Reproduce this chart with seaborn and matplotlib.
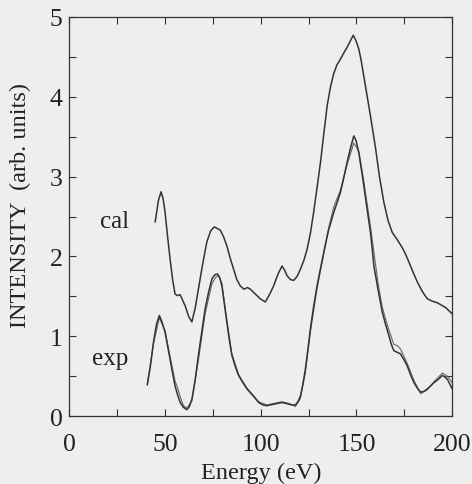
import numpy as np
import pandas as pd
import matplotlib
matplotlib.use("Agg")
import matplotlib.pyplot as plt
from matplotlib.ticker import MultipleLocator
import seaborn as sns

# ---- data ----
cal_x = [44.8, 46.5, 47.9, 49.0, 50.0, 51.3, 52.6, 54.0, 55.2, 56.5, 57.9, 59.2, 60.5, 62.3, 64.0, 65.7,
         67.4, 69.6, 71.8, 73.8, 75.7, 77.3, 78.8, 80.5, 82.3, 84.0, 85.8, 87.5, 89.3, 91.2, 93.1, 94.5,
         97.1, 99.7, 102.4, 104.5, 106.7, 109.0, 111.1, 112.4, 113.7, 115.5, 117.2, 119.0, 120.7, 122.5,
         124.2, 126.0, 127.6, 129.4, 131.2, 133.0, 134.7, 136.4, 138.1, 139.8, 141.6, 143.4, 145.1, 146.8,
         148.3, 149.8, 151.2, 152.5, 153.8, 155.5, 157.3, 158.7, 160.0, 162.0, 164.3, 166.5, 168.7, 171.3,
         173.9, 175.6, 177.4, 179.6, 181.8, 184.4, 187.0, 189.6, 192.2, 194.4, 196.6, 198.3, 200.0]
cal_y = [2.43, 2.70, 2.81, 2.72, 2.55, 2.25, 1.97, 1.70, 1.53, 1.51, 1.52, 1.45, 1.38, 1.25, 1.18, 1.35,
         1.59, 1.90, 2.18, 2.32, 2.37, 2.35, 2.33, 2.25, 2.13, 1.98, 1.84, 1.71, 1.63, 1.59, 1.61, 1.59,
         1.53, 1.47, 1.43, 1.52, 1.63, 1.78, 1.88, 1.83, 1.76, 1.71, 1.70, 1.75, 1.84, 1.95,
         2.09, 2.30, 2.55, 2.86, 3.18, 3.55, 3.89, 4.12, 4.29, 4.40, 4.47, 4.55, 4.62, 4.70,
         4.77, 4.70, 4.60, 4.45, 4.26, 4.02, 3.76, 3.55, 3.35, 3.00, 2.68, 2.45, 2.30, 2.21,
         2.11, 2.03, 1.93, 1.80, 1.68, 1.56, 1.47, 1.44, 1.42, 1.39, 1.36, 1.32, 1.28]

exp_x = [40.7, 42.3, 43.9, 45.5, 47.0, 48.5, 50.0, 51.3, 52.6, 53.9, 55.2, 56.5, 57.9, 59.6, 61.4, 62.7,
         64.0, 65.7, 67.4, 69.2, 70.9, 72.7, 74.5, 76.0, 77.4, 78.6, 79.7, 81.0, 82.3, 83.6, 84.9, 86.7,
         88.4, 90.6, 92.8, 95.8, 98.9, 101.0, 103.2, 105.0, 107.0, 109.0, 111.1, 112.8, 114.6, 116.4,
         118.1, 119.4, 120.7, 122.0, 123.3, 124.6, 125.9, 127.6, 129.4, 131.2, 132.9, 134.2, 135.5, 136.8,
         138.1, 139.8, 141.6, 143.4, 145.1, 146.9, 148.6, 149.8, 151.2, 152.5, 153.8, 155.5, 157.3, 158.2,
         159.1, 161.3, 163.5, 165.2, 166.9, 168.2, 169.5, 171.2, 173.0, 174.7, 176.5, 178.2, 180.0, 181.8,
         183.5, 185.3, 187.0, 188.8, 190.5, 192.7, 194.9, 196.2, 197.5, 198.8, 200.0]
exp_y = [0.39, 0.62, 0.92, 1.15, 1.26, 1.17, 1.05, 0.88, 0.71, 0.54, 0.38, 0.27, 0.17, 0.11, 0.08, 0.12,
         0.21, 0.45, 0.76, 1.06, 1.34, 1.55, 1.72, 1.77, 1.78, 1.73, 1.63, 1.40, 1.17, 0.95, 0.76, 0.62,
         0.51, 0.42, 0.34, 0.26, 0.17, 0.14, 0.13, 0.14, 0.15, 0.16, 0.17, 0.16, 0.15, 0.14,
         0.14, 0.18, 0.25, 0.40, 0.59, 0.83, 1.09, 1.37, 1.63, 1.85, 2.05, 2.20, 2.34, 2.44,
         2.55, 2.67, 2.80, 2.99, 3.18, 3.36, 3.51, 3.45, 3.30, 3.10, 2.89, 2.60, 2.30, 2.10,
         1.88, 1.58, 1.30, 1.15, 1.01, 0.90, 0.82, 0.80, 0.78, 0.71, 0.63, 0.52, 0.42, 0.35,
         0.30, 0.31, 0.34, 0.38, 0.42, 0.46, 0.51, 0.49, 0.46, 0.40, 0.34]

exp2_x = [40.7, 43.9, 47.0, 50.0, 52.6, 55.2, 56.5, 57.9, 59.6, 61.4, 64.0, 67.4, 70.9, 74.5, 76.5, 78.0,
          79.7, 82.3, 84.9, 88.4, 92.8, 98.9, 103.2, 107.0, 111.1, 114.6, 118.1, 120.7, 123.3, 125.9,
          129.4, 132.9, 135.5, 138.1, 141.6, 145.1, 148.6, 151.2, 153.8, 157.3, 161.3, 163.5, 166.9,
          169.5, 171.5, 173.0, 176.5, 180.0, 183.5, 187.0, 190.5, 194.9, 197.5, 200.0]
exp2_y = [0.40, 0.90, 1.23, 1.07, 0.75, 0.44, 0.36, 0.24, 0.13, 0.10, 0.19, 0.70, 1.28, 1.66, 1.74, 1.76,
          1.66, 1.20, 0.78, 0.52, 0.35, 0.18, 0.14, 0.16, 0.18, 0.16, 0.12, 0.22, 0.55, 1.05,
          1.60, 2.03, 2.36, 2.62, 2.83, 3.15, 3.42, 3.32, 2.95, 2.38, 1.66, 1.36, 1.08,
          0.90, 0.88, 0.84, 0.66, 0.45, 0.28, 0.33, 0.43, 0.54, 0.50, 0.42]

label_cal = "cal"
label_exp = "exp"

sns.set_style("ticks")
plt.rcParams["font.family"] = ["Liberation Serif", "DejaVu Serif"]

bg = "#efeeec"
fig = plt.figure(figsize=(4.72, 4.85), dpi=100, facecolor=bg)
ax = fig.add_axes([0.147, 0.140, 0.811, 0.823], facecolor=bg)

lc = "#333333"
sns.lineplot(x=cal_x, y=cal_y, ax=ax, color=lc, lw=1.1, sort=False)
sns.lineplot(x=exp2_x, y=exp2_y, ax=ax, color="#666666", lw=0.8, sort=False)
sns.lineplot(x=exp_x, y=exp_y, ax=ax, color=lc, lw=1.1, sort=False)

ax.set_xlim(0, 200)
ax.set_ylim(0, 5)
ax.xaxis.set_major_locator(MultipleLocator(50))
ax.xaxis.set_minor_locator(MultipleLocator(25))
ax.yaxis.set_major_locator(MultipleLocator(1))
ax.yaxis.set_minor_locator(MultipleLocator(0.5))
ax.tick_params(which="both", direction="in", top=True, right=True, length=5, width=0.8, color=lc)
ax.tick_params(which="major", labelsize=18.5, labelcolor="#222222")
ax.tick_params(axis="x", which="major", pad=12)
ax.tick_params(axis="y", which="major", pad=5)
for s in ax.spines.values():
    s.set_color(lc)
    s.set_linewidth(0.9)

ax.set_xlabel("Energy (eV)", fontsize=17.5, color="#222222")
ax.set_ylabel("INTENSITY  (arb. units)", fontsize=17.5, color="#222222")
ax.xaxis.set_label_coords(0.5, -0.140)
ax.yaxis.set_label_coords(-0.127, 0.529)
ax.xaxis.label.set_va("center")
ax.yaxis.label.set_va("center")

ax.text(23.8, 2.45, label_cal, fontsize=18, ha="center", va="center", color="#222222")
ax.text(21.2, 0.73, label_exp, fontsize=18, ha="center", va="center", color="#222222")

fig.savefig("out.png", dpi=100, facecolor=bg)
